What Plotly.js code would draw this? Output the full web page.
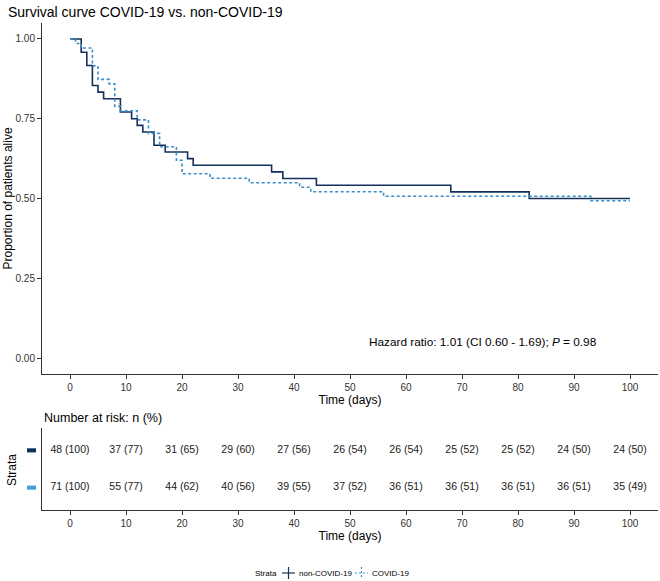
<!DOCTYPE html>
<html>
<head>
<meta charset="utf-8">
<script src="https://cdn.plot.ly/plotly-3.0.1.min.js"></script>
<style>html,body{margin:0;padding:0;background:#fff;}#chart{width:660px;height:581px;}</style>
</head>
<body>
<div id="chart"></div>
<script>
// ---- Data ----
var groupNames = ['non-COVID-19', 'COVID-19'];
var groupN = [48, 71];

// Kaplan-Meier step data: event times and number still alive after each time
var nonCovidTimes = [0, 2, 3, 4, 5, 6, 9, 11, 12, 13, 15, 17, 21, 22, 36, 38, 44, 68, 82, 100];
var nonCovidAlive = [48, 46, 44, 41, 40, 39, 37, 36, 35, 34, 32, 31, 30, 29, 28, 27, 26, 25, 24, 24];

var covidTimes = [0, 1, 2, 4, 5, 7, 8, 9, 12, 14, 16, 19, 20, 25, 32, 41, 43, 56, 93, 100];
var covidAlive = [71, 70, 69, 65, 62, 61, 56, 55, 53, 50, 47, 44, 41, 40, 39, 38, 37, 36, 35, 35];

// Number at risk table
var riskTimes = [0, 10, 20, 30, 40, 50, 60, 70, 80, 90, 100];
var nonCovidRisk = [48, 37, 31, 29, 27, 26, 26, 25, 25, 24, 24];
var nonCovidPct = [100, 77, 65, 60, 56, 54, 54, 52, 52, 50, 50];
var covidRisk = [71, 55, 44, 40, 39, 37, 36, 36, 36, 36, 35];
var covidPct = [100, 77, 62, 56, 55, 52, 51, 51, 51, 51, 49];

var xTicks = [0, 10, 20, 30, 40, 50, 60, 70, 80, 90, 100];
var yTicks = [0, 0.25, 0.5, 0.75, 1];
var yTickText = ['0.00', '0.25', '0.50', '0.75', '1.00'];

// ---- Styling ----
var cNon = '#15305a';
var cCov = '#3b8fc9';
var barNon = '#0d2f5e';
var barCov = '#3fa3da';
var FONT = 'Liberation Sans, Arial, sans-serif';

// pixel -> paper helpers (plot area: x 42..658, y 23..510)
function px(x) { return (x - 42) / 616; }
function py(y) { return (510 - y) / 487; }

function prop(arr, n) { return arr.map(function (v) { return v / n; }); }
function lbl(n, p) { return n.map(function (v, i) { return v + ' (' + p[i] + ')'; }); }

var traces = [
  { x: nonCovidTimes, y: prop(nonCovidAlive, groupN[0]), type: 'scatter', mode: 'lines',
    line: { shape: 'hv', color: cNon, width: 1.6 }, showlegend: false, xaxis: 'x', yaxis: 'y' },
  { x: covidTimes, y: prop(covidAlive, groupN[1]), type: 'scatter', mode: 'lines',
    line: { shape: 'hv', color: cCov, width: 1.6, dash: '3px,2.5px' }, showlegend: false, xaxis: 'x', yaxis: 'y' },
  // risk table
  { x: riskTimes, y: riskTimes.map(function () { return groupNames[0]; }), text: lbl(nonCovidRisk, nonCovidPct),
    type: 'scatter', mode: 'text', textfont: { family: FONT, size: 10.5, color: '#1a1a1a' }, showlegend: false,
    hoverinfo: 'skip', xaxis: 'x2', yaxis: 'y2' },
  { x: riskTimes, y: riskTimes.map(function () { return groupNames[1]; }), text: lbl(covidRisk, covidPct),
    type: 'scatter', mode: 'text', textfont: { family: FONT, size: 10.5, color: '#1a1a1a' }, showlegend: false,
    hoverinfo: 'skip', xaxis: 'x2', yaxis: 'y2' }
];

var axisCommon = {
  showgrid: false, zeroline: false, showline: true, linecolor: '#333', linewidth: 1,
  ticks: 'outside', ticklen: 4, tickcolor: '#333', tickwidth: 1,
  tickfont: { family: FONT, size: 10, color: '#333' }
};

function merge(a, b) { var o = {}; for (var k in a) o[k] = a[k]; for (var k2 in b) o[k2] = b[k2]; return o; }

var legendY = py(573);
var legFont = { family: FONT, size: 8, color: '#000' };

var layout = {
  width: 660, height: 581,
  margin: { l: 42, r: 2, t: 23, b: 71 },
  paper_bgcolor: '#fff', plot_bgcolor: '#fff',
  font: { family: FONT, color: '#000' },
  showlegend: false,
  title: { text: 'Survival curve COVID-19 vs. non-COVID-19', x: 0.012, xanchor: 'left', xref: 'container',
           y: 1 - 12 / 581, yref: 'container', yanchor: 'middle', font: { family: FONT, size: 14, color: '#000' } },
  xaxis: merge(axisCommon, { domain: [0, 1], range: [-5, 105], tickvals: xTicks, anchor: 'y',
    title: { text: 'Time (days)', font: { family: FONT, size: 12, color: '#000' }, standoff: 3 } }),
  yaxis: merge(axisCommon, { domain: [0.2793, 1], range: [-0.05, 1.05], tickvals: yTicks, ticktext: yTickText, anchor: 'x',
    title: { text: 'Proportion of patients alive', font: { family: FONT, size: 12, color: '#000' }, standoff: 0 } }),
  xaxis2: merge(axisCommon, { domain: [0, 1], range: [-5, 105], tickvals: xTicks, anchor: 'y2',
    title: { text: 'Time (days)', font: { family: FONT, size: 12, color: '#000' }, standoff: 3 } }),
  yaxis2: merge(axisCommon, { domain: [0, 0.1684], anchor: 'x2', type: 'category',
    categoryorder: 'array', categoryarray: [groupNames[1], groupNames[0]], range: [-0.6, 1.6],
    ticks: '', showticklabels: false }),
  shapes: [
    // strata colour keys in risk table
    { type: 'rect', xref: 'paper', yref: 'y2', x0: px(27), x1: px(36), y0: 0.945, y1: 1.055, fillcolor: barNon, line: { width: 0 } },
    { type: 'rect', xref: 'paper', yref: 'y2', x0: px(27), x1: px(36), y0: -0.055, y1: 0.055, fillcolor: barCov, line: { width: 0 } },
    // bottom legend keys
    { type: 'line', xref: 'paper', yref: 'paper', x0: px(282), x1: px(295), y0: legendY, y1: legendY, line: { color: cNon, width: 1.2 } },
    { type: 'line', xref: 'paper', yref: 'paper', x0: px(288.5), x1: px(288.5), y0: py(567), y1: py(579), line: { color: cNon, width: 1.2 } },
    { type: 'line', xref: 'paper', yref: 'paper', x0: px(355), x1: px(368), y0: legendY, y1: legendY, line: { color: cCov, width: 1.2, dash: '2px,2px' } },
    { type: 'line', xref: 'paper', yref: 'paper', x0: px(361.5), x1: px(361.5), y0: py(567), y1: py(579), line: { color: cCov, width: 1.2, dash: '2px,2px' } }
  ],
  annotations: [
    { text: 'Hazard ratio: 1.01 (CI 0.60 - 1.69); <i>P</i> = 0.98', xref: 'x', yref: 'y', x: 94.4, y: 0.05,
      xanchor: 'right', yanchor: 'middle', showarrow: false, font: { family: FONT, size: 11.8, color: '#000' } },
    { text: 'Number at risk: n (%)', xref: 'paper', yref: 'paper', x: 0, y: py(418),
      xanchor: 'left', yanchor: 'middle', showarrow: false, font: { family: FONT, size: 12.5, color: '#000' } },
    { text: 'Strata', xref: 'paper', yref: 'paper', x: px(12), y: py(470), textangle: -90,
      xanchor: 'center', yanchor: 'middle', showarrow: false, font: { family: FONT, size: 12, color: '#000' } },
    { text: 'Strata', xref: 'paper', yref: 'paper', x: px(253), y: legendY, xanchor: 'left', yanchor: 'middle',
      showarrow: false, font: legFont },
    { text: groupNames[0], xref: 'paper', yref: 'paper', x: px(297), y: legendY, xanchor: 'left', yanchor: 'middle',
      showarrow: false, font: legFont },
    { text: groupNames[1], xref: 'paper', yref: 'paper', x: px(370), y: legendY, xanchor: 'left', yanchor: 'middle',
      showarrow: false, font: legFont }
  ]
};

Plotly.newPlot('chart', traces, layout, { displayModeBar: false, staticPlot: true });
</script>
</body>
</html>
